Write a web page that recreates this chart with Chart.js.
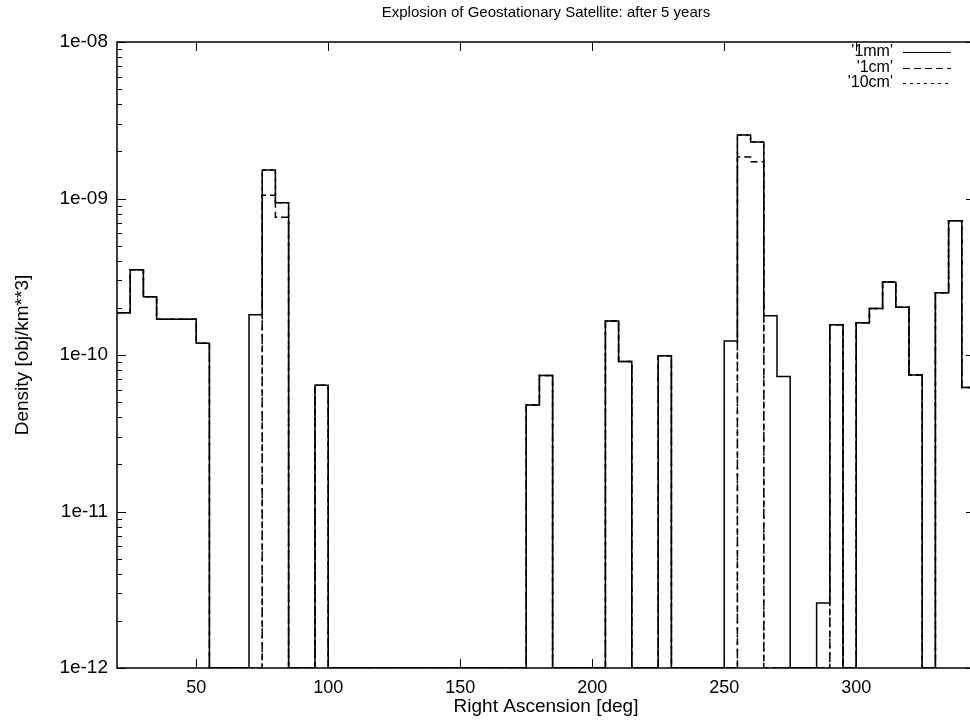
<!DOCTYPE html>
<html><head><meta charset="utf-8">
<script src="https://cdn.jsdelivr.net/npm/chart.js@4/dist/chart.umd.min.js"></script>
<style>
html,body{margin:0;padding:0;background:#fff;overflow:hidden;width:970px;height:720px;}
#wrap{position:absolute;left:0;top:0;width:980px;height:720px;}
</style></head><body>
<div id="wrap"><canvas id="c" width="980" height="720"></canvas></div>
<script>
// Bin edges (deg) of the histogram steps; last entry closes the final bin
const binEdges = [20,25,30,35,40,45,50,55,60,65,70,75,80,85,90,95,100,105,110,115,120,125,130,135,140,145,150,155,160,165,170,175,180,185,190,195,200,205,210,215,220,225,230,235,240,245,250,255,260,265,270,275,280,285,290,295,300,305,310,315,320,325,330,335,340,345];
// Density per bin [obj/km^3], 0 = empty bin
const density1mm = [1.86e-10,3.5e-10,2.36e-10,1.69e-10,1.69e-10,1.69e-10,1.19e-10,0,0,0,1.81e-10,1.52e-9,9.4e-10,0,0,6.4e-11,0,0,0,0,0,0,0,0,0,0,0,0,0,0,0,4.8e-11,7.4e-11,0,0,0,0,1.65e-10,9.1e-11,0,0,9.9e-11,0,0,0,0,1.23e-10,2.55e-9,2.3e-9,1.78e-10,7.3e-11,0,0,2.6e-12,1.56e-10,0,1.61e-10,1.98e-10,2.93e-10,2.02e-10,7.45e-11,0,2.5e-10,7.2e-10,6.2e-11];
const density1cm  = [1.86e-10,3.5e-10,2.36e-10,1.69e-10,1.69e-10,1.69e-10,1.19e-10,0,0,0,0,1.05e-9,7.6e-10,0,0,6.4e-11,0,0,0,0,0,0,0,0,0,0,0,0,0,0,0,4.8e-11,7.4e-11,0,0,0,0,1.65e-10,9.1e-11,0,0,9.9e-11,0,0,0,0,0,1.84e-9,1.72e-9,0,0,0,0,0,1.56e-10,0,1.61e-10,1.98e-10,2.93e-10,2.02e-10,7.45e-11,0,2.5e-10,7.2e-10,6.2e-11];
const density10cm = [1.86e-10,3.5e-10,2.36e-10,1.69e-10,1.69e-10,1.69e-10,1.19e-10,0,0,0,0,1.52e-9,9.4e-10,0,0,6.4e-11,0,0,0,0,0,0,0,0,0,0,0,0,0,0,0,4.8e-11,7.4e-11,0,0,0,0,1.65e-10,9.1e-11,0,0,9.9e-11,0,0,0,0,0,2.55e-9,2.3e-9,0,0,0,0,0,1.56e-10,0,1.61e-10,1.98e-10,2.93e-10,2.02e-10,7.45e-11,0,2.5e-10,7.2e-10,6.2e-11];
const seriesLabels = ["'1mm'", "'1cm'", "'10cm'"];
const xTickValues = [50,100,150,200,250,300];
const yTickValues = [1e-12,1e-11,1e-10,1e-9,1e-8];
const yTickLabels = ['1e-12','1e-11','1e-10','1e-09','1e-08'];
const yMinorMultipliers = [2,3,4,5,6,7,8,9];
const titleText = 'Explosion of Geostationary Satellite: after 5 years';
const xAxisTitle = 'Right Ascension [deg]';
const yAxisTitle = 'Density [obj/km**3]';
const X_MIN = 20, X_MAX = 345, Y_MIN = 1e-12, Y_MAX = 1e-8;

const FONT = '"Liberation Sans", Arial, Helvetica, sans-serif';
Chart.defaults.color = '#000';
Chart.defaults.font.family = FONT;

function toPoints(vals){
  return binEdges.map((x, k) => {
    const v = k < vals.length ? vals[k] : 0;
    return {x: x, y: v > 0 ? v : Y_MIN};
  });
}

const styles = [
  {borderDash: []},
  {borderDash: [7, 4]},
  {borderDash: [3, 4]}
];
const allSeries = [density1mm, density1cm, density10cm];

const datasets = allSeries.map((vals, i) => ({
  label: seriesLabels[i],
  data: toPoints(vals),
  stepped: true,
  borderColor: '#000',
  borderWidth: 1.5,
  borderDash: styles[i].borderDash,
  pointRadius: 0,
  fill: false,
  tension: 0
})).reverse();

const framePlugin = {
  id: 'gpframe',
  afterDatasetsDraw(chart){
    const {ctx, chartArea: a, scales} = chart;
    const xs = scales.x, ys = scales.y;
    ctx.save();
    ctx.strokeStyle = '#000';
    ctx.setLineDash([]);
    ctx.lineWidth = 1.5;
    ctx.strokeRect(a.left, a.top, a.right - a.left, a.bottom - a.top);
    ctx.lineWidth = 1;
    ctx.beginPath();
    const MAJ = 9, MIN = 5;
    yTickValues.forEach((v, i) => {
      const py = Math.round(ys.getPixelForValue(v)) + 0.5;
      ctx.moveTo(a.left, py); ctx.lineTo(a.left + MAJ, py);
      ctx.moveTo(a.right, py); ctx.lineTo(a.right - MAJ, py);
      if (i < yTickValues.length - 1) {
        yMinorMultipliers.forEach(m => {
          const pm = Math.round(ys.getPixelForValue(v * m)) + 0.5;
          ctx.moveTo(a.left, pm); ctx.lineTo(a.left + MIN, pm);
          ctx.moveTo(a.right, pm); ctx.lineTo(a.right - MIN, pm);
        });
      }
    });
    xTickValues.forEach(v => {
      const px = Math.round(xs.getPixelForValue(v)) + 0.5;
      ctx.moveTo(px, a.bottom); ctx.lineTo(px, a.bottom - MAJ);
      ctx.moveTo(px, a.top); ctx.lineTo(px, a.top + MAJ);
    });
    ctx.stroke();

    // gnuplot-style key (top right)
    ctx.font = '16px ' + FONT;
    ctx.fillStyle = '#000';
    ctx.textAlign = 'right';
    ctx.textBaseline = 'middle';
    const ordered = chart.data.datasets.slice().reverse();
    ordered.forEach((ds, i) => {
      const ty = a.top + 10 + i * 15.5;
      ctx.fillText(ds.label, a.right - 82, ty);
      ctx.setLineDash(ds.borderDash || []);
      ctx.lineWidth = 1.2;
      ctx.beginPath();
      ctx.moveTo(a.right - 72, Math.round(ty) + 0.5);
      ctx.lineTo(a.right - 24, Math.round(ty) + 0.5);
      ctx.stroke();
    });
    ctx.restore();
  }
};

new Chart(document.getElementById('c'), {
  type: 'line',
  data: {datasets: datasets},
  options: {
    responsive: false,
    animation: false,
    layout: {padding: {left: 0, right: 5, top: 0, bottom: 0}},
    plugins: {
      legend: {display: false},
      tooltip: {enabled: false},
      title: {
        display: true, text: titleText, fullSize: false,
        font: {size: 15, weight: 'normal', family: FONT},
        padding: {top: 4, bottom: 20}, color: '#000'
      }
    },
    scales: {
      x: {
        type: 'linear', min: X_MIN, max: X_MAX,
        grid: {display: false, drawTicks: false},
        border: {display: false},
        afterBuildTicks(s){ s.ticks = xTickValues.map(v => ({value: v})); },
        afterFit(s){ s.height = 52; },
        ticks: {font: {size: 18}, padding: 9, maxRotation: 0, callback: v => String(v)},
        title: {display: true, text: xAxisTitle, font: {size: 19}, padding: {top: 0, bottom: 2}}
      },
      y: {
        type: 'logarithmic', min: Y_MIN, max: Y_MAX,
        grid: {display: false, drawTicks: false},
        border: {display: false},
        afterBuildTicks(s){ s.ticks = yTickValues.map(v => ({value: v})); },
        afterFit(s){ s.width = 117; },
        ticks: {font: {size: 19}, padding: 9,
          callback: (v) => { const i = yTickValues.findIndex(t => Math.abs(t - v) / t < 1e-6); return i >= 0 ? yTickLabels[i] : ''; }},
        title: {display: true, text: yAxisTitle, font: {size: 19}, padding: {top: 11, bottom: 0}}
      }
    }
  },
  plugins: [framePlugin]
});
</script>
</body></html>
